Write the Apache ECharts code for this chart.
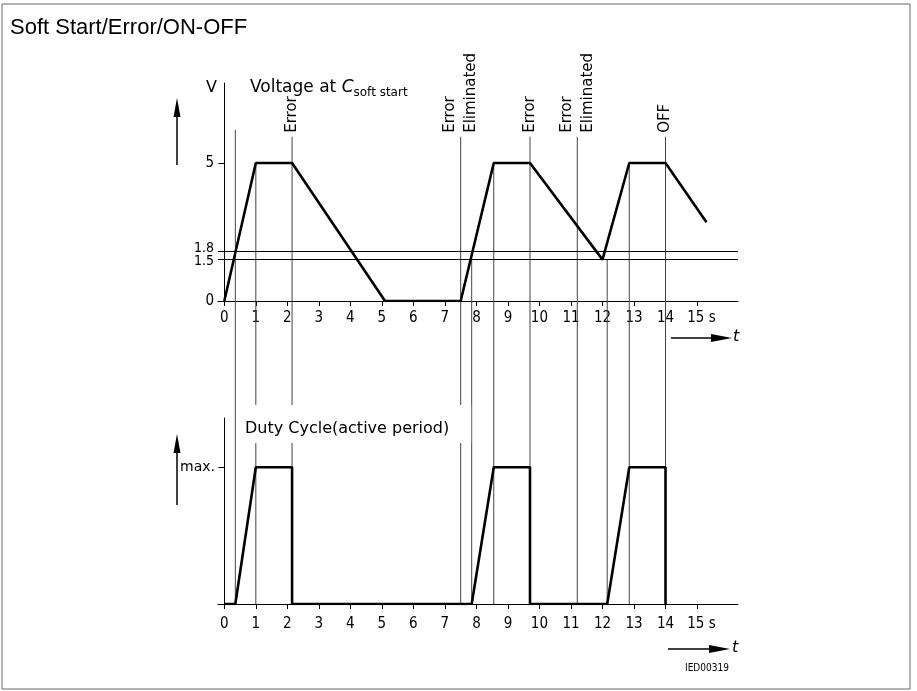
<!DOCTYPE html>
<html><head><meta charset="utf-8">
<script src="https://cdn.jsdelivr.net/npm/echarts@6/dist/echarts.min.js"></script>
<style>html,body{margin:0;padding:0;background:#fff}#c{width:917px;height:691px}</style>
</head><body><div id="c"></div>
<script>
// ---- data ----
const voltT = [0, 1, 2.15, 5.1, 7.5, 8.55, 9.7, 12.0, 12.85, 14, 15.3];
const voltV = [0, 5, 5, 0, 0, 5, 5, 1.5, 5, 5, 2.85];
const dutyT = [0, 0.35, 1, 2.15, 2.15, 7.85, 8.55, 9.7, 9.7, 12.15, 12.85, 14, 14];
const dutyV = [0, 0, 1, 1, 0, 0, 1, 1, 0, 0, 1, 1, 0];
const thresholds = [1.8, 1.5];
const markerT = [0.35, 1, 2.15, 7.5, 7.85, 8.55, 9.7, 11.2, 12.15, 12.85, 14];
const markerTop = [6.2, 5, 5.95, 5.95, 1.5, 5, 5.95, 5.95, 1.5, 5, 5.95];
const markerLabel = ['', '', 'Error', 'Error\nEliminated', '', '', 'Error', 'Error\nEliminated', '', '', 'OFF'];
const xTicks = [0,1,2,3,4,5,6,7,8,9,10,11,12,13,14,15];
const voltTicks = [0, 1.5, 1.8, 5];
const voltTickMarks = [0, 5];
const dutyTicks = [1];
const dutyTickLabels = ['max.'];

const NUM_FONT = '"DejaVu Sans Condensed", sans-serif';
const TXT_FONT = '"DejaVu Sans", sans-serif';

let lowerBase = null;

function xAxisCfg(gi, margin) {
  return {
    type: 'value', gridIndex: gi, min: -0.2, max: 16.3,
    axisLine: {show: true, onZero: true, lineStyle: {color: '#000', width: 1}},
    splitLine: {show: false},
    axisTick: {show: true, customValues: xTicks, length: 5, lineStyle: {color: '#000', width: 1}},
    axisLabel: {
      customValues: xTicks, margin: margin, color: '#000', fontSize: 15, fontFamily: NUM_FONT,
      formatter: v => v === 15 ? '{p|}15 s' : String(v),
      rich: {p: {width: 9}}
    }
  };
}

function buildOption() {
  return {
    animation: false,
    backgroundColor: '#fff',
    title: [
      {text: 'Soft Start/Error/ON-OFF', left: 5, top: 12,
       textStyle: {fontFamily: '"Liberation Sans", Arial, sans-serif', fontSize: 22, fontWeight: 'normal', color: '#000'}},
      {text: 'V', left: 201, top: 75, textStyle: {fontFamily: TXT_FONT, fontSize: 16, fontWeight: 'normal', color: '#000'}},
      {text: '{n|Voltage at }{c|C}{s|soft start}', left: 245, top: 74,
       textStyle: {fontWeight: 'normal', rich: {
         n: {fontFamily: TXT_FONT, fontSize: 17, fontWeight: 'normal', color: '#000', lineHeight: 20, verticalAlign: 'top'},
         c: {fontFamily: TXT_FONT, fontSize: 17, fontWeight: 'normal', fontStyle: 'italic', color: '#000', lineHeight: 20, verticalAlign: 'top'},
         s: {fontFamily: TXT_FONT, fontSize: 12, fontWeight: 'normal', color: '#000', lineHeight: 13, verticalAlign: 'bottom'}
       }}},
      {text: 'Duty Cycle(active period)', left: 241, top: 405, backgroundColor: '#fff', padding: [16, 22, 6, 4],
       textStyle: {fontFamily: TXT_FONT, fontSize: 16, fontWeight: 'normal', color: '#000'}}
    ],
    grid: [
      {left: 218, top: 83, width: 520, height: 218},
      {left: 218, top: 418, width: 520, height: 186}
    ],
    xAxis: [xAxisCfg(0, 10), xAxisCfg(1, 13)],
    yAxis: [
      {type: 'value', gridIndex: 0, min: 0, max: 7.9,
       axisLine: {show: true, onZero: true, lineStyle: {color: '#000', width: 1}},
       splitLine: {show: false},
       axisTick: {show: true, customValues: voltTickMarks, length: 6, lineStyle: {color: '#000'}},
       axisLabel: {customValues: voltTicks, margin: 4, color: '#000', fontSize: 15, fontFamily: NUM_FONT,
         formatter: v => v === 1.8 ? '{u|1.8}' : v === 1.5 ? '{d|1.5}' : String(v),
         rich: {
           u: {fontSize: 14, fontFamily: NUM_FONT, color: '#000', padding: [0, 0, 6, 0]},
           d: {fontSize: 14, fontFamily: NUM_FONT, color: '#000', padding: [4, 0, 0, 0]}
         }}},
      {type: 'value', gridIndex: 1, min: 0, max: 1.36,
       axisLine: {show: true, onZero: true, lineStyle: {color: '#000', width: 1}},
       splitLine: {show: false},
       axisTick: {show: true, customValues: dutyTicks, length: 6, lineStyle: {color: '#000'}},
       axisLabel: {customValues: dutyTicks, margin: 3, color: '#000', fontSize: 14, fontFamily: TXT_FONT,
         formatter: v => dutyTickLabels[dutyTicks.indexOf(v)]}}
    ],
    series: [
      {
        id: 'markers', type: 'custom', xAxisIndex: 0, yAxisIndex: 0, z: 1, silent: true, clip: false,
        data: markerT.map((t, i) => [t, markerTop[i]]),
        renderItem: function (params, api) {
          const p = api.coord([api.value(0), api.value(1)]);
          const yb = lowerBase == null ? p[1] : lowerBase;
          const children = [{type: 'line', shape: {x1: p[0], y1: p[1], x2: p[0], y2: yb},
            style: {stroke: '#444', lineWidth: 1}}];
          const lbl = markerLabel[params.dataIndex];
          if (lbl) {
            children.push({type: 'text', x: p[0], y: p[1] - 4, rotation: Math.PI / 2,
              style: {text: lbl, x: 0, y: 0, align: 'left', verticalAlign: 'middle',
                font: '15px "DejaVu Sans", sans-serif', fill: '#000', lineHeight: 21}});
          }
          return {type: 'group', children: children};
        }
      },
      {
        id: 'volt', type: 'line', xAxisIndex: 0, yAxisIndex: 0, z: 3, symbol: 'none',
        lineStyle: {color: '#000', width: 2.6}, silent: true,
        data: voltT.map((t, i) => [t, voltV[i]]),
        markLine: {silent: true, symbol: 'none', label: {show: false},
          lineStyle: {color: '#000', width: 1, type: 'solid'},
          data: thresholds.map(v => ({yAxis: v}))}
      },
      {
        id: 'duty', type: 'line', xAxisIndex: 1, yAxisIndex: 1, z: 3, symbol: 'none',
        lineStyle: {color: '#000', width: 2.6}, silent: true,
        data: dutyT.map((t, i) => [t, dutyV[i]])
      }
    ],
    graphic: [
      {type: 'rect', shape: {x: 2, y: 4, width: 908, height: 685}, style: {fill: 'none', stroke: '#666', lineWidth: 1}, z: 0},
      {type: 'line', shape: {x1: 177, y1: 165, x2: 177, y2: 112}, style: {stroke: '#000', lineWidth: 1.5}},
      {type: 'polygon', shape: {points: [[177, 98], [173.5, 117], [180.5, 117]]}, style: {fill: '#000'}},
      {type: 'line', shape: {x1: 177, y1: 505, x2: 177, y2: 448}, style: {stroke: '#000', lineWidth: 1.5}},
      {type: 'polygon', shape: {points: [[177, 434], [173.5, 453], [180.5, 453]]}, style: {fill: '#000'}},
      {type: 'line', shape: {x1: 671, y1: 338, x2: 716, y2: 338}, style: {stroke: '#000', lineWidth: 1.5}},
      {type: 'polygon', shape: {points: [[732, 338], [711, 334], [711, 342]]}, style: {fill: '#000'}},
      {type: 'text', x: 733, y: 329, style: {text: 't', font: 'italic 16px "DejaVu Sans", sans-serif', fill: '#000'}},
      {type: 'line', shape: {x1: 668, y1: 649, x2: 714, y2: 649}, style: {stroke: '#000', lineWidth: 1.5}},
      {type: 'polygon', shape: {points: [[730, 649], [709, 645], [709, 653]]}, style: {fill: '#000'}},
      {type: 'text', x: 732, y: 640, style: {text: 't', font: 'italic 16px "DejaVu Sans", sans-serif', fill: '#000'}},
      {type: 'text', x: 685, y: 663, style: {text: 'IED00319', font: '10px "DejaVu Sans Condensed", sans-serif', fill: '#000'}}
    ]
  };
}

const chart = echarts.init(document.getElementById('c'), null, {renderer: 'canvas'});
chart.setOption(buildOption());
lowerBase = chart.convertToPixel({xAxisIndex: 1, yAxisIndex: 1}, [0, 0])[1];
chart.setOption(buildOption(), true);
</script>
</body></html>
